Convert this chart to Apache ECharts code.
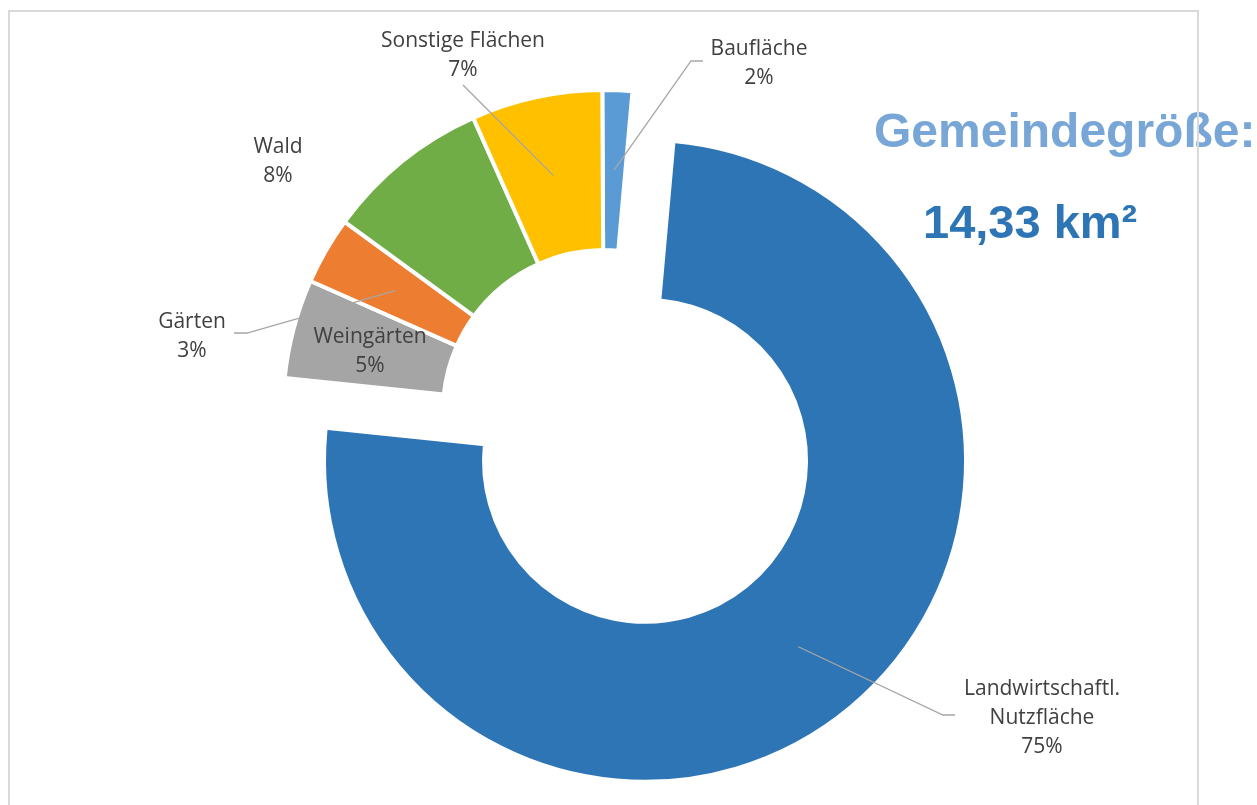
<!DOCTYPE html>
<html>
<head>
<meta charset="utf-8">
<title>Flächennutzung</title>
<script src="https://cdn.jsdelivr.net/npm/echarts@6/dist/echarts.min.js"></script>
<style>
  html, body { margin: 0; padding: 0; background: #fff; }
  #chart { width: 1257px; height: 805px; }
</style>
</head>
<body>
<div id="chart"></div>
<script>
// shares in percent, clockwise from 12 o'clock
const categories = ['Baufläche', 'Landwirtschaftl.\nNutzfläche', 'Weingärten', 'Gärten', 'Wald', 'Sonstige Flächen'];
const shares = [1.5, 75.3, 5.0, 3.4, 8.3, 6.6];
const colors = ['#5B9BD5', '#2E75B6', '#A5A5A5', '#ED7D31', '#70AD47', '#FFC000'];
const explodedIndex = 1;
const titleText = 'Gemeindegröße:';
const areaText = '14,33 km²';

const CENTER = [604, 411];
const START_ANGLE = 90.3;
const R_IN = 161;
const R_OUT = 321;
const R_MID = 241;
const EXPLODE = 64.5;
const TEXT_COLOR = '#404040';
const LINE_COLOR = '#A6A6A6';

// where the labels sit, and the tail of each leader line (null = no line)
const labelPos = [[759, 64], [1042, 718], [370, 352], [192, 337], [278, 162], [463, 56]];
const labelTail = [
    [[691, 61], [703, 61]],
    [[943, 715], [955, 715]],
    null,
    [[247, 333], [234, 333]],
    null,
    [[463, 85]],
];

// centre of the pulled-out slice, moved along its bisector
const total = shares.reduce((a, b) => a + b, 0);
const before = shares.slice(0, explodedIndex).reduce((a, b) => a + b, 0);
const midAngle = (90 - START_ANGLE) * Math.PI / 180
    + (before + shares[explodedIndex] / 2) / total * 2 * Math.PI;
const explodedCenter = [
    CENTER[0] + EXPLODE * Math.sin(midAngle),
    CENTER[1] - EXPLODE * Math.cos(midAngle),
];

const hiddenItem = {
    itemStyle: { color: 'rgba(0,0,0,0)', borderWidth: 0 },
    label: { show: false },
    labelLine: { show: false },
};

function ringData(visible) {
    return shares.map((v, i) => {
        const item = { name: categories[i], value: v };
        if (!visible(i)) {
            return Object.assign(item, hiddenItem);
        }
        item.itemStyle = { color: colors[i] };
        return item;
    });
}

function labelData(visible) {
    return shares.map((v, i) => {
        const item = { name: categories[i], value: v };
        if (!visible(i)) {
            return Object.assign(item, hiddenItem);
        }
        item.itemStyle = { color: 'rgba(0,0,0,0)' };
        if (!labelTail[i]) {
            item.labelLine = { show: false };
        }
        return item;
    });
}

function ringSeries(center, visible) {
    return {
        type: 'pie',
        center,
        radius: [R_IN, R_OUT],
        startAngle: START_ANGLE,
        clockwise: true,
        silent: true,
        avoidLabelOverlap: false,
        itemStyle: { borderColor: '#fff', borderWidth: 4 },
        label: { show: false },
        labelLine: { show: false },
        data: ringData(visible),
    };
}

function labelSeries(center, visible) {
    return {
        type: 'pie',
        center,
        radius: [0, R_MID],
        startAngle: START_ANGLE,
        clockwise: true,
        silent: true,
        z: 5,
        avoidLabelOverlap: false,
        label: {
            show: true,
            position: 'outside',
            color: TEXT_COLOR,
            fontFamily: 'Open Sans',
            fontSize: 21,
            lineHeight: 29,
            align: 'center',
            formatter: (p) => `${categories[p.dataIndex]}\n${Math.round(p.percent)}%`,
        },
        labelLine: {
            show: true,
            length: 10,
            length2: 10,
            lineStyle: { color: LINE_COLOR, width: 1.3 },
        },
        labelLayout: (p) => {
            const i = p.dataIndex;
            const res = {
                x: labelPos[i][0],
                y: labelPos[i][1],
                align: 'center',
                verticalAlign: 'middle',
                hideOverlap: false,
            };
            if (labelTail[i] && p.labelLinePoints) {
                res.labelLinePoints = [p.labelLinePoints[0]].concat(labelTail[i]);
            }
            return res;
        },
        data: labelData(visible),
    };
}

const isExploded = (i) => i === explodedIndex;
const isRest = (i) => i !== explodedIndex;

const chart = echarts.init(document.getElementById('chart'));
chart.setOption({
    animation: false,
    backgroundColor: '#fff',
    title: [
        {
            text: titleText,
            left: 874,
            top: 110,
            padding: 0,
            textStyle: { fontFamily: 'Liberation Sans', fontSize: 48, fontWeight: 'bold', color: '#78A6D6' },
        },
        {
            text: areaText,
            left: 923,
            top: 202,
            padding: 0,
            textStyle: { fontFamily: 'Liberation Sans', fontSize: 47, fontWeight: 'bold', color: '#2E75B6' },
        },
    ],
    graphic: [{
        type: 'rect',
        z: 100,
        silent: true,
        shape: { x: 9, y: 11, width: 1189, height: 830 },
        style: { fill: 'none', stroke: '#D9D9D9', lineWidth: 2 },
    }],
    series: [
        ringSeries(CENTER, isRest),
        ringSeries(explodedCenter, isExploded),
        labelSeries(CENTER, isRest),
        labelSeries(explodedCenter, isExploded),
    ],
});
</script>
</body>
</html>
